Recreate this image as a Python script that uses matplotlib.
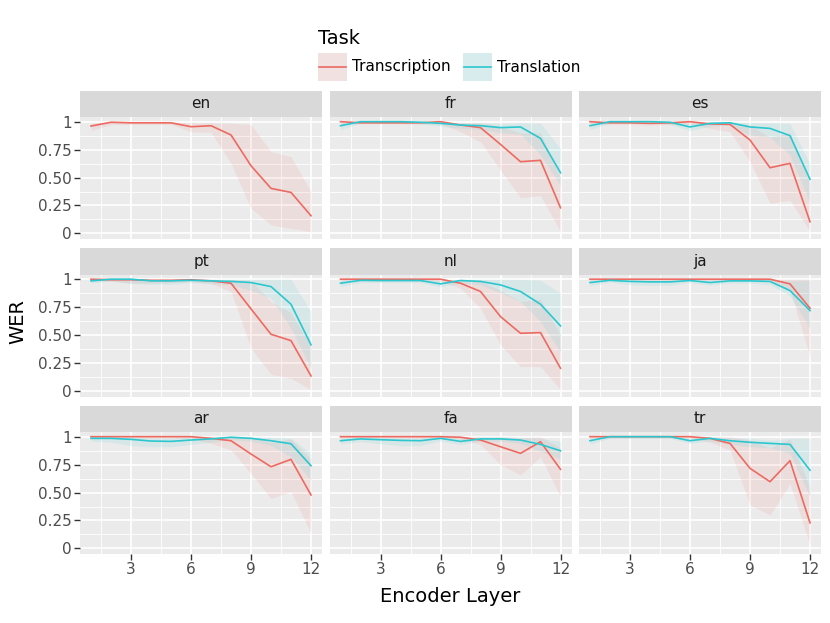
import matplotlib
matplotlib.use("Agg")
import matplotlib.pyplot as plt
from matplotlib.patches import Rectangle
from matplotlib.lines import Line2D

plt.rcParams['font.family'] = ['DejaVu Sans']

LAYERS = list(range(1, 13))
LANGS = ["en", "fr", "es", "pt", "nl", "ja", "ar", "fa", "tr"]
TASKS = ["Transcription", "Translation"]
X_TICKS = [3, 6, 9, 12]
Y_TICKS = [0, 0.25, 0.5, 0.75, 1]
Y_TICK_LABELS = ["0", "0.25", "0.50", "0.75", "1"]

# ---- Transcription (mean, low, high) ----
en_tc = [0.961, 0.995, 0.99, 0.99, 0.99, 0.955, 0.964, 0.881, 0.606, 0.403, 0.367, 0.158]
en_tc_lo = [0.92, 0.975, 0.975, 0.975, 0.975, 0.91, 0.905, 0.627, 0.224, 0.075, 0.045, 0.015]
en_tc_hi = [0.985, 1.0, 1.0, 1.0, 1.0, 0.99, 0.99, 0.985, 0.976, 0.731, 0.687, 0.373]

fr_tc = [1.0, 0.99, 0.99, 0.99, 0.99, 1.0, 0.97, 0.947, 0.797, 0.642, 0.654, 0.229]
fr_tc_lo = [0.98, 0.98, 0.98, 0.98, 0.98, 0.98, 0.91, 0.82, 0.567, 0.319, 0.337, 0.015]
fr_tc_hi = [1.0, 1.0, 1.0, 1.0, 1.0, 1.0, 0.99, 0.99, 0.96, 0.90, 0.90, 0.50]

es_tc = [1.0, 0.99, 0.99, 0.985, 0.99, 1.0, 0.98, 0.976, 0.836, 0.588, 0.627, 0.104]
es_tc_lo = [0.98, 0.975, 0.975, 0.97, 0.975, 0.98, 0.94, 0.91, 0.642, 0.269, 0.298, 0.015]
es_tc_hi = [1.0, 1.0, 1.0, 1.0, 1.0, 1.0, 0.995, 0.995, 0.97, 0.86, 0.90, 0.45]

pt_tc = [1.0, 0.995, 0.995, 0.99, 0.99, 0.995, 0.985, 0.964, 0.734, 0.507, 0.45, 0.134]
pt_tc_lo = [0.985, 0.98, 0.965, 0.965, 0.97, 0.98, 0.96, 0.89, 0.382, 0.149, 0.113, 0.01]
pt_tc_hi = [1.0, 1.0, 1.0, 1.0, 1.0, 1.0, 1.0, 0.995, 0.99, 0.80, 0.70, 0.40]

nl_tc = [1.0, 1.0, 1.0, 1.0, 1.0, 1.0, 0.964, 0.89, 0.665, 0.516, 0.522, 0.203]
nl_tc_lo = [0.985, 0.985, 0.985, 0.985, 0.985, 0.985, 0.92, 0.74, 0.412, 0.218, 0.218, 0.01]
nl_tc_hi = [1.0, 1.0, 1.0, 1.0, 1.0, 1.0, 0.995, 0.98, 0.90, 0.80, 0.82, 0.50]

ja_tc = [1.0, 1.0, 1.0, 1.0, 1.0, 1.0, 1.0, 1.0, 1.0, 1.0, 0.958, 0.74]
ja_tc_lo = [0.99, 0.99, 0.99, 0.99, 0.99, 0.99, 0.99, 0.99, 0.99, 0.99, 0.90, 0.307]
ja_tc_hi = [1.0, 1.0, 1.0, 1.0, 1.0, 1.0, 1.0, 1.0, 1.0, 1.0, 1.0, 1.0]

ar_tc = [1.0, 1.0, 1.0, 1.0, 1.0, 1.0, 0.985, 0.964, 0.845, 0.731, 0.797, 0.478]
ar_tc_lo = [0.99, 0.99, 0.99, 0.99, 0.99, 0.985, 0.94, 0.88, 0.67, 0.447, 0.507, 0.133]
ar_tc_hi = [1.0, 1.0, 1.0, 1.0, 1.0, 1.0, 1.0, 1.0, 1.0, 0.95, 0.98, 0.80]

fa_tc = [1.0, 1.0, 1.0, 1.0, 1.0, 1.0, 0.995, 0.97, 0.91, 0.851, 0.955, 0.708]
fa_tc_lo = [0.99, 0.99, 0.99, 0.99, 0.99, 0.99, 0.98, 0.93, 0.75, 0.657, 0.82, 0.462]
fa_tc_hi = [1.0, 1.0, 1.0, 1.0, 1.0, 1.0, 1.0, 1.0, 1.0, 0.99, 1.0, 0.90]

tr_tc = [1.0, 1.0, 1.0, 1.0, 1.0, 1.0, 0.985, 0.94, 0.717, 0.597, 0.785, 0.229]
tr_tc_lo = [0.99, 0.99, 0.99, 0.99, 0.99, 0.99, 0.95, 0.88, 0.388, 0.298, 0.58, 0.03]
tr_tc_hi = [1.0, 1.0, 1.0, 1.0, 1.0, 1.0, 1.0, 1.0, 0.97, 0.90, 0.98, 0.55]

# ---- Translation (mean, low, high); none for en ----
fr_tl = [0.964, 1.0, 1.0, 1.0, 0.995, 0.985, 0.97, 0.964, 0.947, 0.953, 0.851, 0.543]
fr_tl_lo = [0.93, 0.985, 0.985, 0.985, 0.98, 0.96, 0.94, 0.93, 0.90, 0.89, 0.70, 0.43]
fr_tl_hi = [0.99, 1.0, 1.0, 1.0, 1.0, 1.0, 0.99, 0.99, 0.985, 0.99, 0.985, 0.76]

es_tl = [0.964, 1.0, 1.0, 1.0, 0.995, 0.953, 0.985, 0.99, 0.953, 0.94, 0.875, 0.484]
es_tl_lo = [0.93, 0.985, 0.985, 0.985, 0.975, 0.92, 0.96, 0.97, 0.88, 0.86, 0.70, 0.27]
es_tl_hi = [0.99, 1.0, 1.0, 1.0, 1.0, 0.985, 1.0, 1.0, 0.99, 0.99, 0.985, 0.62]

pt_tl = [0.985, 1.0, 1.0, 0.985, 0.985, 0.99, 0.985, 0.98, 0.97, 0.934, 0.776, 0.412]
pt_tl_lo = [0.965, 0.985, 0.96, 0.955, 0.955, 0.97, 0.96, 0.95, 0.90, 0.83, 0.56, 0.20]
pt_tl_hi = [1.0, 1.0, 1.0, 1.0, 1.0, 1.0, 1.0, 1.0, 1.0, 1.0, 1.0, 0.71]

nl_tl = [0.964, 0.99, 0.988, 0.988, 0.988, 0.958, 0.988, 0.98, 0.949, 0.89, 0.776, 0.582]
nl_tl_lo = [0.935, 0.97, 0.97, 0.97, 0.97, 0.93, 0.965, 0.95, 0.88, 0.80, 0.62, 0.35]
nl_tl_hi = [0.99, 1.0, 1.0, 1.0, 1.0, 0.985, 1.0, 1.0, 1.0, 1.0, 0.99, 0.875]

ja_tl = [0.97, 0.99, 0.98, 0.976, 0.976, 0.988, 0.97, 0.985, 0.985, 0.98, 0.898, 0.719]
ja_tl_lo = [0.94, 0.975, 0.95, 0.945, 0.945, 0.97, 0.945, 0.965, 0.965, 0.95, 0.85, 0.56]
ja_tl_hi = [0.99, 1.0, 0.995, 0.99, 0.99, 1.0, 0.99, 1.0, 1.0, 0.995, 0.985, 0.99]

ar_tl = [0.985, 0.985, 0.976, 0.961, 0.958, 0.97, 0.98, 0.995, 0.985, 0.964, 0.937, 0.74]
ar_tl_lo = [0.96, 0.95, 0.92, 0.91, 0.91, 0.93, 0.95, 0.975, 0.96, 0.92, 0.82, 0.61]
ar_tl_hi = [1.0, 1.0, 1.0, 0.99, 0.99, 1.0, 1.0, 1.0, 1.0, 0.995, 0.985, 0.85]

fa_tl = [0.964, 0.98, 0.973, 0.967, 0.964, 0.985, 0.958, 0.98, 0.98, 0.97, 0.931, 0.874]
fa_tl_lo = [0.935, 0.955, 0.935, 0.92, 0.92, 0.96, 0.93, 0.96, 0.96, 0.94, 0.87, 0.80]
fa_tl_hi = [0.99, 1.0, 0.995, 0.99, 0.99, 1.0, 0.985, 1.0, 1.0, 0.995, 0.985, 0.96]

tr_tl = [0.964, 1.0, 1.0, 1.0, 1.0, 0.964, 0.985, 0.964, 0.95, 0.94, 0.931, 0.70]
tr_tl_lo = [0.935, 0.985, 0.985, 0.985, 0.985, 0.94, 0.96, 0.93, 0.91, 0.90, 0.85, 0.46]
tr_tl_hi = [0.99, 1.0, 1.0, 1.0, 1.0, 0.99, 1.0, 0.99, 0.985, 0.97, 0.985, 0.985]

SERIES = {
    "en": [(en_tc, en_tc_lo, en_tc_hi), None],
    "fr": [(fr_tc, fr_tc_lo, fr_tc_hi), (fr_tl, fr_tl_lo, fr_tl_hi)],
    "es": [(es_tc, es_tc_lo, es_tc_hi), (es_tl, es_tl_lo, es_tl_hi)],
    "pt": [(pt_tc, pt_tc_lo, pt_tc_hi), (pt_tl, pt_tl_lo, pt_tl_hi)],
    "nl": [(nl_tc, nl_tc_lo, nl_tc_hi), (nl_tl, nl_tl_lo, nl_tl_hi)],
    "ja": [(ja_tc, ja_tc_lo, ja_tc_hi), (ja_tl, ja_tl_lo, ja_tl_hi)],
    "ar": [(ar_tc, ar_tc_lo, ar_tc_hi), (ar_tl, ar_tl_lo, ar_tl_hi)],
    "fa": [(fa_tc, fa_tc_lo, fa_tc_hi), (fa_tl, fa_tl_lo, fa_tl_hi)],
    "tr": [(tr_tc, tr_tc_lo, tr_tc_hi), (tr_tl, tr_tl_lo, tr_tl_hi)],
}

COLORS = ["#EC6A61", "#2CC7CE"]
RIB_ALPHA = 0.1
PANEL_BG = "#EBEBEB"
STRIP_BG = "#D9D9D9"
TICK_COL = "#4D4D4D"

W, H = 830, 623
fig = plt.figure(figsize=(W / 100, H / 100), dpi=100)

def fx(px):
    return px / W

def fy(py):
    return 1 - py / H

col_left = [80, 329.5, 579]
col_w = 242
strip_top = [90.5, 248, 405.5]
strip_h = 26.5
panel_h = 122

minor_x = [1.5, 4.5, 7.5, 10.5]
minor_y = [0.125, 0.375, 0.625, 0.875]

for i, lang in enumerate(LANGS):
    r, c = divmod(i, 3)
    left = col_left[c]
    stop = strip_top[r]
    ptop = stop + strip_h
    ax = fig.add_axes([fx(left), fy(ptop + panel_h), col_w / W, panel_h / H])
    ax.set_facecolor(PANEL_BG)
    for s in ax.spines.values():
        s.set_visible(False)
    ax.set_xlim(0.45, 12.55)
    ax.set_ylim(-0.05, 1.042)
    for v in minor_x:
        ax.axvline(v, color="white", lw=0.6, zorder=0.5)
    for v in minor_y:
        ax.axhline(v, color="white", lw=0.6, zorder=0.5)
    for v in X_TICKS:
        ax.axvline(v, color="white", lw=1.2, zorder=0.6)
    for v in Y_TICKS:
        ax.axhline(v, color="white", lw=1.2, zorder=0.6)

    ser = SERIES[lang]
    for k, s in enumerate(ser):
        if s is None:
            continue
        m, lo, hi = s
        ax.fill_between(LAYERS, lo, hi, color=COLORS[k], alpha=RIB_ALPHA, lw=0, zorder=1)
    for k, s in enumerate(ser):
        if s is None:
            continue
        m, lo, hi = s
        ax.plot(LAYERS, m, color=COLORS[k], lw=1.2, zorder=2, solid_joinstyle="round")

    ax.set_xticks(X_TICKS)
    ax.set_yticks(Y_TICKS)
    ax.tick_params(axis="both", length=4, width=1, color="#333333",
                   labelcolor=TICK_COL, labelsize=11, pad=2)
    if c == 0:
        ax.set_yticklabels(Y_TICK_LABELS)
    else:
        ax.tick_params(axis="y", length=0, labelleft=False)
    if r == 2:
        ax.set_xticklabels([str(v) for v in X_TICKS])
    else:
        ax.tick_params(axis="x", length=0, labelbottom=False)

    sax = fig.add_axes([fx(left), fy(stop + strip_h), col_w / W, strip_h / H])
    sax.set_facecolor(STRIP_BG)
    sax.set_xticks([])
    sax.set_yticks([])
    for s in sax.spines.values():
        s.set_visible(False)
    sax.text(0.5, 0.5, lang, ha="center", va="center", fontsize=11,
             color="#1A1A1A", transform=sax.transAxes)

# axis titles
fig.text(fx(450), fy(596), "Encoder Layer", ha="center", va="center", fontsize=14)
fig.text(fx(18), fy(322), "WER", ha="center", va="center", rotation=90, fontsize=14)

# legend
fig.text(fx(318), fy(38), "Task", ha="left", va="center", fontsize=14)
key_x = [318, 463]
text_x = [352, 497]
for k, task in enumerate(TASKS):
    kx = key_x[k]
    fig.patches.append(Rectangle((fx(kx), fy(81)), 29 / W, 28 / H, transform=fig.transFigure,
                                 facecolor="#F2F2F2", edgecolor="none"))
    fig.patches.append(Rectangle((fx(kx), fy(81)), 29 / W, 28 / H, transform=fig.transFigure,
                                 facecolor=COLORS[k], alpha=0.12, edgecolor="none"))
    fig.lines.append(Line2D([fx(kx + 1), fx(kx + 28)], [fy(67), fy(67)], transform=fig.transFigure,
                            color=COLORS[k], lw=1.2))
    fig.text(fx(text_x[k]), fy(67), task, ha="left", va="center", fontsize=11)

fig.savefig("out.png", dpi=100, facecolor="white")
